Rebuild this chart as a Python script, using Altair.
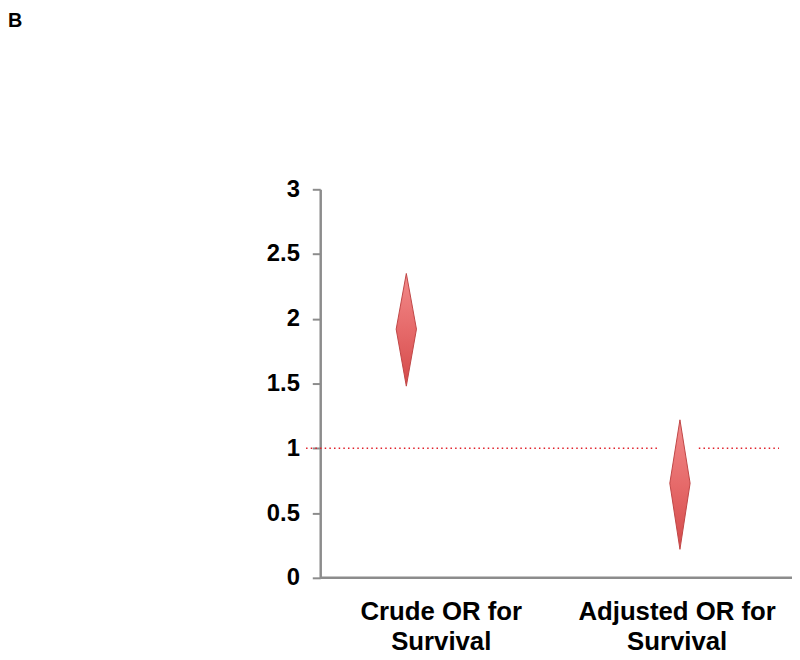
import altair as alt
import pandas as pd

# Data
categories = ["Crude OR for\nSurvival", "Adjusted OR for\nSurvival"]
cat_pos = [0.513, 1.513]
diamond_pos = [0.365, 1.525]
or_low = [1.48, 0.22]
or_est = [1.92, 0.73]
or_high = [2.35, 1.22]
ref_value = 1.0
y_ticks = [0, 0.5, 1, 1.5, 2, 2.5, 3]

HALF = 0.043  # diamond half-width (x units)

rows = []
for i, c in enumerate(categories):
    cx = diamond_pos[i]
    rows += [
        {"cat": c, "x": cx - HALF, "lo": or_est[i], "hi": or_est[i]},
        {"cat": c, "x": cx, "lo": or_low[i], "hi": or_high[i]},
        {"cat": c, "x": cx + HALF, "lo": or_est[i], "hi": or_est[i]},
    ]
diam = pd.DataFrame(rows)

xscale = alt.Scale(domain=[0, 2], nice=False, zero=False)
yscale = alt.Scale(domain=[0, 3], nice=False)

base_axis_y = alt.Axis(
    values=y_ticks, format=".1~f", labelFont="Liberation Sans", labelFontSize=24,
    labelFontWeight="bold", labelColor="black", labelPadding=13,
    tickColor="#8c8c8c", tickSize=8, tickWidth=2, domainColor="#8c8c8c",
    domainWidth=2.5, grid=False, title=None,
)

# reference line segments (left part and right part, gap around 2nd diamond)
ref = pd.DataFrame({"x": [-0.06, 1.605], "x2": [1.44, 1.945], "y": [ref_value, ref_value]})
ref_layer = alt.Chart(ref).mark_rule(
    color="#e0202a", strokeDash=[1.5, 3.2], strokeWidth=1.6, clip=False
).encode(
    x=alt.X("x:Q", scale=xscale, axis=None),
    x2="x2:Q",
    y=alt.Y("y:Q", scale=yscale, axis=base_axis_y),
)

# x baseline
base = pd.DataFrame({"x": [0], "x2": [2], "y": [0]})
base_layer = alt.Chart(base).mark_rule(color="#8c8c8c", strokeWidth=2.5).encode(
    x=alt.X("x:Q", scale=xscale, axis=None), x2="x2:Q",
    y=alt.Y("y:Q", scale=yscale, axis=base_axis_y)
)

grad = alt.LinearGradient(
    gradient="linear", x1=0, x2=0, y1=0, y2=1,
    stops=[alt.GradientStop(offset=0, color="#f28a8a"),
           alt.GradientStop(offset=0.5, color="#e66a6a"),
           alt.GradientStop(offset=1, color="#d44a4a")],
)

diam_layer = alt.Chart(diam).mark_area(
    orient="vertical", color=grad, stroke="#bf4646", strokeWidth=1,
    opacity=1, interpolate="linear"
).encode(
    x=alt.X("x:Q", scale=xscale, axis=None),
    y=alt.Y("lo:Q", scale=yscale, axis=base_axis_y),
    y2="hi:Q",
    detail="cat:N",
)

labels = pd.DataFrame({"x": cat_pos, "label": categories})
label_layer = alt.Chart(labels).mark_text(
    font="Liberation Sans", fontSize=26, fontWeight="bold", color="black",
    baseline="top", align="center", lineBreak="\n", lineHeight=30
).encode(
    x=alt.X("x:Q", scale=xscale, axis=None),
    y=alt.value(414),
    text="label:N",
)

title_layer = alt.Chart(pd.DataFrame({"t": ["B"]})).mark_text(
    font="Liberation Sans", fontSize=20, fontWeight="bold", color="black",
    align="left", baseline="top"
).encode(x=alt.value(-315), y=alt.value(-180), text="t:N")

chart = alt.layer(base_layer, ref_layer, diam_layer, label_layer, title_layer).properties(
    width=476, height=392,
    autosize=alt.AutoSizeParams(type="none"),
    padding={"left": 315, "top": 180, "right": 0, "bottom": 80},
).configure_view(stroke=None)

chart.save("out.html", embed_options={"renderer": "svg", "actions": False})
